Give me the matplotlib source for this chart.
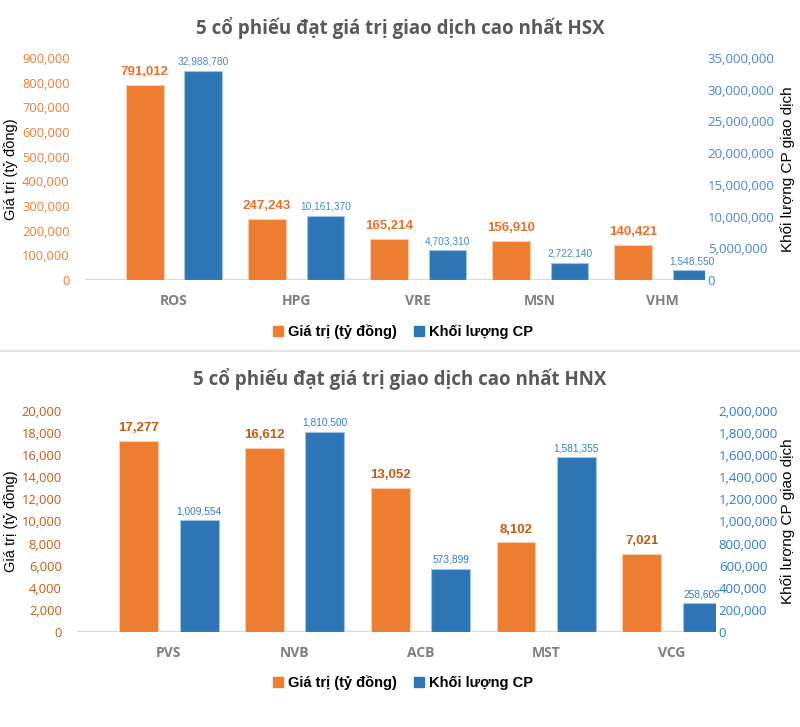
import matplotlib.pyplot as plt
from matplotlib.patches import Patch
from matplotlib.lines import Line2D

# HSX data
hsx_codes = ["ROS", "HPG", "VRE", "MSN", "VHM"]
hsx_value = [791012, 247243, 165214, 156910, 140421]
hsx_volume = [32988780, 10161370, 4703310, 2722140, 1548550]

# HNX data
hnx_codes = ["PVS", "NVB", "ACB", "MST", "VCG"]
hnx_value = [17277, 16612, 13052, 8102, 7021]
hnx_volume = [1009554, 1810500, 573899, 1581355, 258606]

W, H = 800, 727
orange = "#ED7D31"
blue = "#2E75B6"
narrow = ["Liberation Sans Narrow", "Liberation Sans", "DejaVu Sans"]
sans = ["Open Sans", "DejaVu Sans"]
arial = ["Liberation Sans", "DejaVu Sans"]

fig = plt.figure(figsize=(W / 100, H / 100), dpi=100)


def panel(rect, title, title_y, codes, value, volume, vmax, vstep, cmax, cstep,
          lab_orange, tick_orange, lab_blue, tick_blue, legend_y):
    l, t, r, b = rect
    ax = fig.add_axes([l / W, 1 - b / H, (r - l) / W, (b - t) / H])
    ax2 = ax.twinx()
    x = list(range(len(codes)))
    bw = 0.31
    b1 = ax.bar([i - 0.24 for i in x], value, bw, color=orange,
                edgecolor="#F8CBAD", linewidth=0.8)
    b2 = ax2.bar([i + 0.24 for i in x], volume, bw, color=blue,
                 edgecolor="#9DC3E6", linewidth=0.8)
    ax.set_xlim(-0.73, 4.35)
    ax.set_ylim(0, vmax)
    ax2.set_ylim(0, cmax)
    ax.set_yticks(range(0, vmax + 1, vstep))
    ax2.set_yticks(range(0, cmax + 1, cstep))
    ax.set_yticklabels([f"{v:,}" for v in range(0, vmax + 1, vstep)],
                       color=tick_orange, family=sans, fontsize=9.3)
    ax2.set_yticklabels([f"{v:,}" for v in range(0, cmax + 1, cstep)],
                        color=tick_blue, family=sans, fontsize=9.5)
    ax.set_xticks(x)
    ax.set_xticklabels(codes, color="#7F7F7F", family=sans, fontsize=10,
                       fontweight="bold")
    ax.tick_params(axis="y", length=0, pad=11)
    ax.tick_params(axis="x", length=0, pad=10)
    ax2.tick_params(axis="y", length=0, pad=2)
    for a in (ax, ax2):
        for s in a.spines.values():
            s.set_visible(False)
    ax.axhline(0, color="#D9D9D9", lw=1.5, zorder=0)
    ax.bar_label(b1, labels=[f"{v:,}" for v in value], padding=5,
                 color=lab_orange, family=narrow, fontsize=9.5, fontweight="bold")
    ax2.bar_label(b2, labels=[f"{v:,}" for v in volume], padding=3,
                  color=lab_blue, family=narrow, fontsize=7.3)
    mid = 1 - (t + b) / 2 / H
    fig.text(11 / W, mid, "Giá trị (tỷ đồng)", rotation=90, ha="center",
             va="center", family=arial, fontsize=10.5)
    fig.text(788 / W, mid, "Khối lượng CP giao dịch", rotation=90, ha="center",
             va="center", family=arial, fontsize=11)
    fig.text(0.5, 1 - title_y / H, title, ha="center", va="center",
             family=sans, fontsize=13.5, fontweight="bold", color="#595959")
    handles = [Patch(color=orange), Patch(color=blue)]
    fig.legend(handles, ["Giá trị (tỷ đồng)", "Khối lượng CP"], loc="center",
               bbox_to_anchor=(403 / W, 1 - legend_y / H), ncol=2,
               frameon=False, handlelength=0.7, handleheight=0.7,
               handletextpad=0.3, columnspacing=1.2,
               prop={"family": arial, "weight": "bold", "size": 10.5})


panel((85, 58, 705, 280), "5 cổ phiếu đạt giá trị giao dịch cao nhất HSX", 28,
      hsx_codes, hsx_value, hsx_volume, 900000, 100000, 35000000, 5000000,
      "#E8702A", orange, "#4A86C8", "#4A86C8", 332)

panel((77, 411, 716, 632), "5 cổ phiếu đạt giá trị giao dịch cao nhất HNX", 379,
      hnx_codes, hnx_value, hnx_volume, 20000, 2000, 2000000, 200000,
      "#C55A11", "#C55A11", "#2E7BCF", "#2E7BCF", 683)

fig.add_artist(Line2D([0, 1], [1 - 351 / H, 1 - 351 / H], color="#E3E3E3",
                      lw=1.5, transform=fig.transFigure))

fig.savefig("out.png", dpi=100)
